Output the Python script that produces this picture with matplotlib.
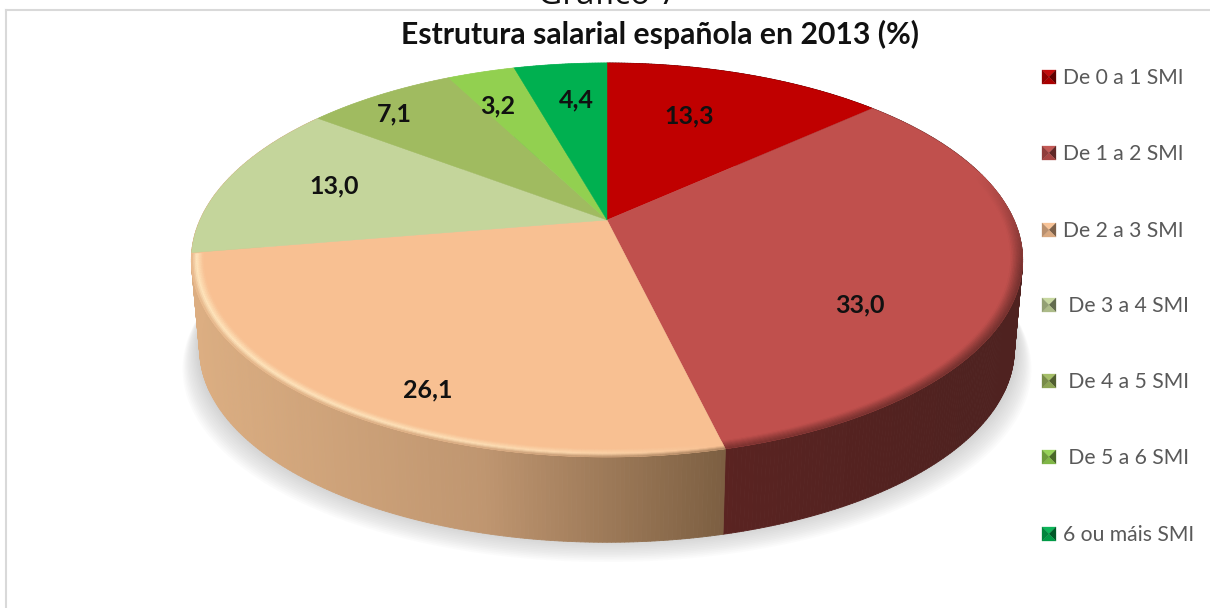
import numpy as np
import matplotlib
matplotlib.use("Agg")
import matplotlib.pyplot as plt
from matplotlib.collections import PolyCollection
from matplotlib.colors import to_rgb

TITLE = "Estrutura salarial española en 2013 (%)"
SUPER_TITLE = "Gráfico 7"
categories = ["De 0 a 1 SMI", "De 1 a 2 SMI", "De 2 a 3 SMI", " De 3 a 4 SMI",
              " De 4 a 5 SMI", " De 5 a 6 SMI", "6 ou máis SMI"]
values = [13.3, 33.0, 26.1, 13.0, 7.1, 3.2, 4.4]
colors = ["#C00000", "#C0504D", "#F8C092", "#C4D59B", "#A0BB60", "#92D050", "#00B050"]
label_xy = [(689, 116), (860, 305), (428, 390), (334, 186), (394, 114), (498, 106), (576, 100)]

plt.rcParams["font.family"] = ["Lato", "DejaVu Sans"]
fig = plt.figure(figsize=(12.1, 6.08), dpi=100)
ax = fig.add_axes([0, 0, 1, 1])
ax.set_xlim(0, 1210)
ax.set_ylim(608, 0)
ax.axis("off")

CX, CY, A, B, K = 607.0, 220.0, 407.0, 188.9, 0.203
S, DY = 0.98, 90.0


def top(th, r=1.0):
    u, v = r * np.sin(th), r * np.cos(th)
    d = 1 + K * v
    return CX + A * u / d, CY - B * v / d


def bottom(th):
    x, y = top(th)
    return CX + (x - CX) * S, CY + (y - CY) * S + DY


def mix(c, other, f):
    c, other = np.array(to_rgb(c)), np.array(to_rgb(other))
    return tuple(c * (1 - f) + other * f)


def wall_colour(idx, xm):
    if idx in (2, 3):
        f = np.clip((xm - 192) / (722 - 192), 0, 1)
        if f < 0.55:
            return mix("#DCAE82", "#BF9670", f / 0.55)
        return mix("#BF9670", "#7D5F42", (f - 0.55) / 0.45)
    if idx == 1:
        return mix("#5A2321", "#4F2220", np.clip((xm - 722) / 250, 0, 1))
    if idx == 0:
        return mix(colors[0], "#000000", 0.55)
    return mix(colors[idx], "#FFFFFF", 0.25)


# frame
ax.plot([6, 6], [608, 10], color="#D9D9D9", lw=1.5)
ax.plot([6, 1210], [10, 10], color="#D9D9D9", lw=1.5)

edges = np.cumsum([0] + values) / sum(values) * 2 * np.pi

# soft shadow
tt = np.linspace(0, 2 * np.pi, 361)
bx, by = bottom(tt)
for i in range(14, 0, -1):
    g = 1 + i * 0.003
    ax.fill(CX + (bx - CX) * g, by + i * 1.7 - 4,
            color="#808080", alpha=0.028, lw=0, zorder=1)

# side wall
polys, fc = [], []
th = np.radians(np.arange(0, 360.01, 0.5))
for a, b in zip(th[:-1], th[1:]):
    m = (a + b) / 2
    idx = min(np.searchsorted(edges, m) - 1, len(values) - 1)
    xa, ya = top(a); xb, yb = top(b)
    xc, yc = bottom(b); xd, yd = bottom(a)
    polys.append([(xa, ya), (xb, yb), (xc, yc), (xd, yd)])
    fc.append(wall_colour(idx, top(m)[0]))
ax.add_collection(PolyCollection(polys, facecolors=fc, edgecolors=fc, linewidths=0.6, zorder=2))

# top surface
for val, c0, c1, col in zip(values, edges[:-1], edges[1:], colors):
    t = np.linspace(c0, c1, 200)
    x, y = top(t)
    ax.fill(np.r_[CX, x], np.r_[CY, y], color=col, lw=0.3, zorder=4)

# bevel: soft rim band along the front of the top surface
N_RING = 8
R_IN = 0.972
polys, fc = [], []
for a, b in zip(th[:-1], th[1:]):
    m = (a + b) / 2
    if not (np.radians(75) < m < edges[3] - 0.01):
        continue
    idx = min(np.searchsorted(edges, m) - 1, len(values) - 1)
    xm = top(m)[0]
    wall = wall_colour(idx, xm)
    surf = colors[idx]
    if idx == 2:
        f = np.clip((xm - 192) / (722 - 192), 0, 1)
        peak = mix("#FFE6BE", surf, f ** 3)
    else:
        peak = mix(surf, wall, 0.45)
        peak = mix(surf, peak, np.clip((np.degrees(m) - 75) / 30, 0, 1))
    for k in range(N_RING):
        r0 = R_IN + (1 - R_IN) * k / N_RING
        r1 = R_IN + (1 - R_IN) * (k + 1) / N_RING
        t0 = (k + 0.5) / N_RING
        if t0 < 0.6:
            col = mix(surf, peak, t0 / 0.6)
        else:
            tail = mix(surf, wall, np.clip((np.degrees(m) - 75) / 30, 0, 1) * 0.7)
            col = mix(peak, tail, (t0 - 0.6) / 0.4)
        xa, ya = top(a, r0); xb, yb = top(b, r0)
        xc, yc = top(b, r1); xd, yd = top(a, r1)
        polys.append([(xa, ya), (xb, yb), (xc, yc), (xd, yd)])
        fc.append(col)
ax.add_collection(PolyCollection(polys, facecolors=fc, edgecolors=fc, linewidths=0.3, zorder=4.5))

for (x, y), val in zip(label_xy, values):
    ax.text(x, y, f"{val:.1f}".replace(".", ","), ha="center", va="center",
            fontsize=18, fontweight="bold", color="#111111", zorder=5)

ax.text(660, 34, TITLE, ha="center", va="center", fontsize=21.7, fontweight="bold", color="#111111")
ax.text(608, -5, SUPER_TITLE, ha="center", va="center", fontsize=24, color="#111111", family="Open Sans")

# legend
leg_y = [77, 153, 230, 305, 381, 457, 534]
for yy, name, col in zip(leg_y, categories, colors):
    x0, x1, y0, y1 = 1042, 1056, yy - 7, yy + 7
    mx, my = (x0 + x1) / 2, (y0 + y1) / 2
    ax.fill([x0, x1, mx], [y0, y0, my], color=mix(col, "#FFFFFF", 0.05), lw=0.2)
    ax.fill([x1, x1, mx], [y0, y1, my], color=mix(col, "#000000", 0.5), lw=0.2)
    ax.fill([x0, x1, mx], [y1, y1, my], color=mix(col, "#000000", 0.12), lw=0.2)
    ax.fill([x0, x0, mx], [y0, y1, my], color=mix(col, "#000000", 0.25), lw=0.2)
    ax.text(1063, yy + 1, name, ha="left", va="center", fontsize=15.2, color="#595959")

fig.savefig("out.png", dpi=100)
